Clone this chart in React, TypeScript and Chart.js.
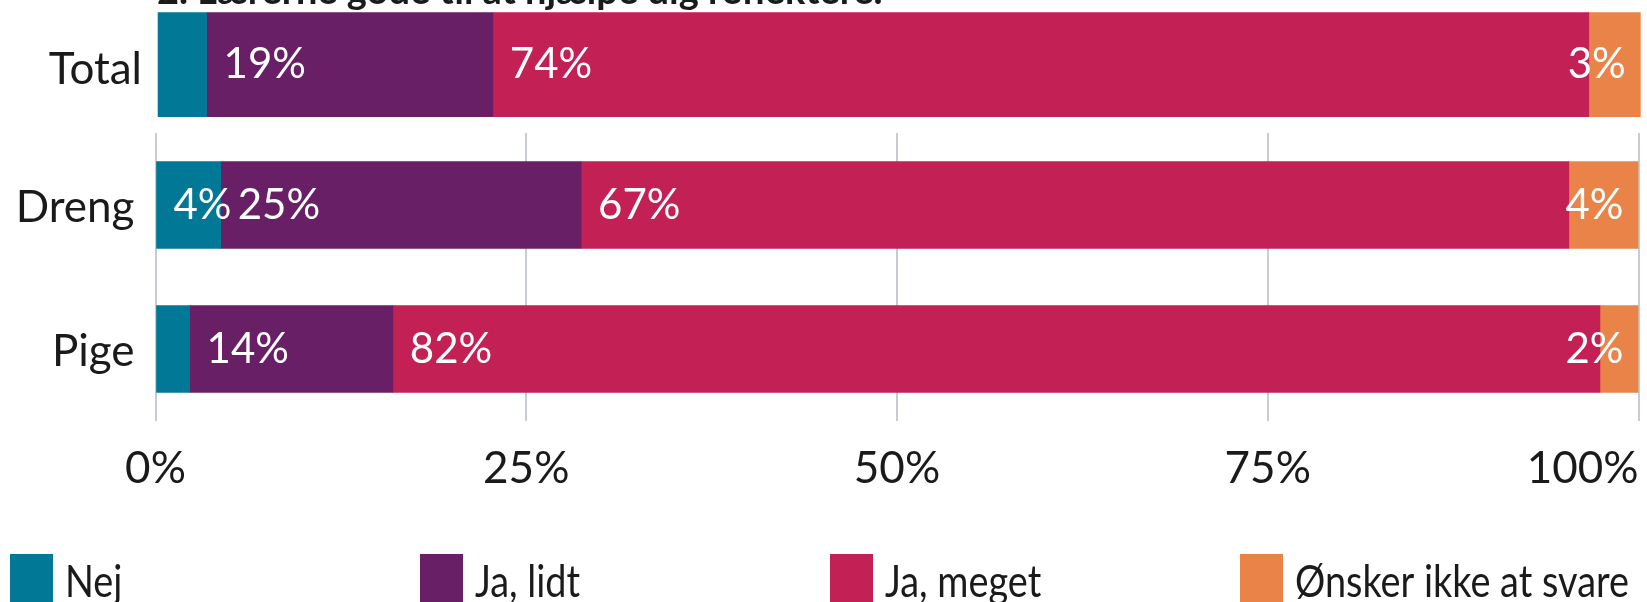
import React, { useEffect, useRef } from "react";
import { Chart, registerables } from "chart.js";

Chart.register(...registerables);

// ---- data ----
const titleText = "2. Lærerne gode til at hjælpe dig reflektere.";
const categories = ["Total", "Dreng", "Pige"];
const seriesNames = ["Nej", "Ja, lidt", "Ja, meget", "Ønsker ikke at svare"];
const seriesColors = ["#007896", "#681f66", "#c32055", "#e98347"];
// segment shares (%) for Total, Dreng, Pige
const nejValues = [3.3, 4.4, 2.3];
const jaLidtValues = [19.3, 24.3, 13.7];
const jaMegetValues = [73.9, 66.6, 81.4];
const oenskerValues = [3.5, 4.7, 2.6];
// printed labels
const nejLabels = ["3%", "4%", "2%"];
const jaLidtLabels = ["19%", "25%", "14%"];
const jaMegetLabels = ["74%", "67%", "82%"];
const oenskerLabels = ["3%", "4%", "2%"];
const xTicks = [0, 25, 50, 75, 100];

const seriesValues = [nejValues, jaLidtValues, jaMegetValues, oenskerValues];
const seriesLabels = [nejLabels, jaLidtLabels, jaMegetLabels, oenskerLabels];

const FONT = "Lato";
const TEXT_COLOR = "#1a1a1a";

const barLabelPlugin = {
  id: "barLabels",
  afterDatasetsDraw(chart: any) {
    const ctx = chart.ctx;
    ctx.save();
    ctx.font = `42px ${FONT}`;
    ctx.fillStyle = "#ffffff";
    ctx.textBaseline = "middle";
    const n = chart.data.datasets.length;
    chart.data.datasets.forEach((ds: any, di: number) => {
      const meta = chart.getDatasetMeta(di);
      meta.data.forEach((bar: any, i: number) => {
        const text = ds.printed[i];
        const p = bar.getProps(["x", "y", "base"], true);
        const left = Math.min(p.x, p.base);
        const right = Math.max(p.x, p.base);
        const w = ctx.measureText(text).width;
        if (di === n - 1) {
          ctx.textAlign = "right";
          ctx.fillText(text, right - 15, p.y);
        } else {
          if (right - left < w) return;
          ctx.textAlign = "left";
          ctx.fillText(text, left + 17, p.y);
        }
      });
    });
    ctx.restore();
  },
};

const legendPlugin = {
  id: "gridLegend",
  afterDraw(chart: any) {
    const ctx = chart.ctx;
    chart.data.datasets.forEach((ds: any, i: number) => {
      const x = 10 + i * 410;
      ctx.save();
      ctx.fillStyle = ds.backgroundColor;
      ctx.fillRect(x, 424, 43, 50);
      ctx.translate(x + 55, 467);
      ctx.scale(0.86, 1);
      ctx.font = `44px ${FONT}`;
      ctx.textBaseline = "alphabetic";
      ctx.textAlign = "left";
      ctx.fillStyle = TEXT_COLOR;
      ctx.fillText(ds.label, 0, 0);
      ctx.restore();
    });
  },
};

const X_TICK_PAD = 21;
const lastTickPlugin = {
  id: "lastTick",
  afterDraw(chart: any) {
    const s = chart.scales.x;
    const ctx = chart.ctx;
    ctx.save();
    ctx.font = `44px ${FONT}`;
    ctx.fillStyle = TEXT_COLOR;
    ctx.textAlign = "right";
    ctx.textBaseline = "middle";
    const last = xTicks[xTicks.length - 1];
    ctx.fillText(last + "%", s.getPixelForValue(last), s.top + X_TICK_PAD + (44 * 1.2) / 2);
    ctx.restore();
  },
};

const titlePlugin = {
  id: "clippedTitle",
  afterDraw(chart: any) {
    const ctx = chart.ctx;
    ctx.save();
    ctx.font = `bold 38px ${FONT}`;
    ctx.fillStyle = TEXT_COLOR;
    ctx.textAlign = "left";
    ctx.textBaseline = "alphabetic";
    ctx.fillText(titleText, 157, 4);
    ctx.restore();
  },
};

function makeDatasets(from: number, to: number, thickness: number) {
  return seriesNames.map((name, i) => ({
    label: name,
    data: seriesValues[i].slice(from, to),
    printed: seriesLabels[i].slice(from, to),
    backgroundColor: seriesColors[i],
    borderWidth: 0,
    barThickness: thickness,
  }));
}

function fixY(width: number) {
  return (s: any) => {
    s.width = width;
    s.paddingTop = 0;
    s.paddingBottom = 0;
  };
}

export default function App() {
  const topRef = useRef<HTMLCanvasElement | null>(null);
  const botRef = useRef<HTMLCanvasElement | null>(null);

  useEffect(() => {
    if (!topRef.current || !botRef.current) return;

    const topChart = new Chart(topRef.current, {
      type: "bar",
      data: { labels: categories.slice(0, 1), datasets: makeDatasets(0, 1, 104) as any },
      options: {
        indexAxis: "y",
        animation: false,
        responsive: false,
        maintainAspectRatio: false,
        layout: { padding: { left: 0, right: 6.3, top: 0, bottom: 0.8 } },
        plugins: { legend: { display: false }, tooltip: { enabled: false } },
        scales: {
          x: { stacked: true, min: 0, max: 100, display: false },
          y: {
            stacked: true,
            grid: { display: false, drawTicks: false, tickLength: 0 },
            border: { display: false },
            ticks: { font: { family: FONT, size: 44 }, color: TEXT_COLOR, padding: 15.6, labelOffset: 5 },
            afterFit: fixY(157.6),
          },
        },
      } as any,
      plugins: [barLabelPlugin, titlePlugin],
    });

    const botChart = new Chart(botRef.current, {
      type: "bar",
      data: { labels: categories.slice(1), datasets: makeDatasets(1, 3, 87) as any },
      options: {
        indexAxis: "y",
        animation: false,
        responsive: false,
        maintainAspectRatio: false,
        layout: { padding: { left: 0, right: 8.5, top: 3, bottom: 111 } },
        plugins: { legend: { display: false }, tooltip: { enabled: false } },
        scales: {
          x: {
            stacked: true,
            min: 0,
            max: 100,
            afterBuildTicks: (s: any) => {
              s.ticks = xTicks.map((v) => ({ value: v }));
            },
            ticks: {
              font: { family: FONT, size: 44 },
              color: TEXT_COLOR,
              padding: X_TICK_PAD,
              maxRotation: 0,
              autoSkip: false,
              callback: (v: any) => (v === xTicks[xTicks.length - 1] ? "" : v + "%"),
            },
            grid: { color: "#c6ccd2", lineWidth: 2, drawTicks: false, tickLength: 0 },
            border: { display: false },
            afterFit: (s: any) => {
              s.height = 70;
              s.paddingLeft = 0;
              s.paddingRight = 0;
            },
          },
          y: {
            stacked: true,
            grid: { display: false, drawTicks: false, tickLength: 0 },
            border: { display: false },
            ticks: { font: { family: FONT, size: 44 }, color: TEXT_COLOR, padding: 21, labelOffset: 3 },
            afterFit: fixY(155.5),
          },
        },
      } as any,
      plugins: [barLabelPlugin, legendPlugin, lastTickPlugin],
    });

    return () => {
      topChart.destroy();
      botChart.destroy();
    };
  }, []);

  return (
    <div
      style={{
        position: "absolute",
        left: 0,
        top: 0,
        width: 1647,
        height: 602,
        overflow: "hidden",
        background: "#ffffff",
      }}
    >
      <canvas ref={topRef} width={1647} height={130} style={{ position: "absolute", left: 0, top: 0 }} />
      <canvas ref={botRef} width={1647} height={472} style={{ position: "absolute", left: 0, top: 130 }} />
    </div>
  );
}
